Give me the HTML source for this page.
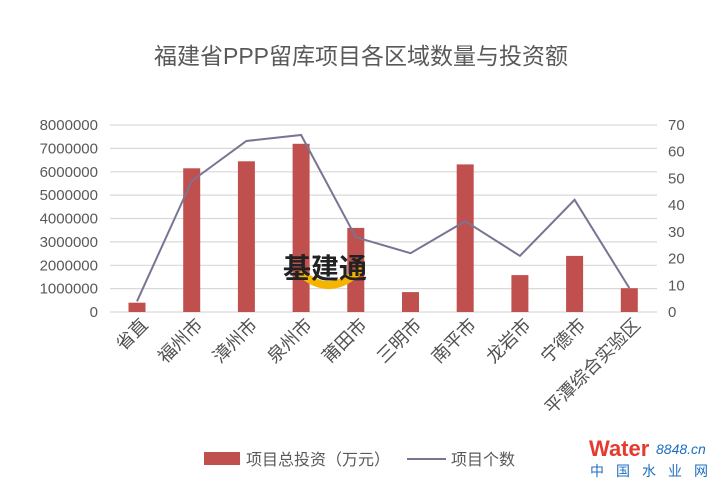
<!DOCTYPE html>
<html><head><meta charset="utf-8"><style>
body{margin:0;background:#fff}
svg text{font-family:"Liberation Sans","Noto Sans CJK SC",sans-serif}
</style></head><body>
<svg width="716" height="484" viewBox="0 0 716 484" xmlns="http://www.w3.org/2000/svg">
<rect width="716" height="484" fill="#fff"/>
<text x="361" y="64" font-size="23" fill="#595959" text-anchor="middle">福建省PPP留库项目各区域数量与投资额</text>
<g stroke="#d9d9d9" stroke-width="1.2">
<line x1="110" x2="657" y1="125" y2="125"/><line x1="110" x2="657" y1="148.4" y2="148.4"/>
<line x1="110" x2="657" y1="171.8" y2="171.8"/><line x1="110" x2="657" y1="195.1" y2="195.1"/>
<line x1="110" x2="657" y1="218.5" y2="218.5"/><line x1="110" x2="657" y1="241.9" y2="241.9"/>
<line x1="110" x2="657" y1="265.3" y2="265.3"/><line x1="110" x2="657" y1="288.6" y2="288.6"/>
<line x1="110" x2="657" y1="312" y2="312"/>
</g>
<g font-size="15" fill="#595959" text-anchor="end">
<text x="98" y="130">8000000</text><text x="98" y="153.4">7000000</text><text x="98" y="176.8">6000000</text>
<text x="98" y="200.1">5000000</text><text x="98" y="223.5">4000000</text><text x="98" y="246.9">3000000</text>
<text x="98" y="270.3">2000000</text><text x="98" y="293.6">1000000</text><text x="98" y="317">0</text>
</g>
<g font-size="15" fill="#595959">
<text x="668" y="130">70</text><text x="668" y="156.7">60</text><text x="668" y="183.4">50</text>
<text x="668" y="210.1">40</text><text x="668" y="236.9">30</text><text x="668" y="263.6">20</text>
<text x="668" y="290.3">10</text><text x="668" y="317">0</text>
</g>
<g fill="#c0504d">
<rect x="128.5" y="302.7" width="17" height="9.3"/>
<rect x="183.2" y="168.3" width="17" height="143.7"/>
<rect x="237.9" y="161.3" width="17" height="150.7"/>
<rect x="292.6" y="143.8" width="17" height="168.2"/>
<rect x="347.3" y="227.9" width="17" height="84.1"/>
<rect x="402" y="292.1" width="17" height="19.9"/>
<rect x="456.7" y="164.4" width="17" height="147.6"/>
<rect x="511.4" y="275.1" width="17" height="36.9"/>
<rect x="566.1" y="255.9" width="17" height="56.1"/>
<rect x="620.8" y="288.2" width="17" height="23.8"/>
</g>
<polyline fill="none" stroke="#7a7394" stroke-width="2" points="137,301.3 191.7,181 246.4,141 301.1,135 355.8,237.2 410.5,253.2 465.2,221.2 519.9,255.9 574.6,199.8 629.3,288"/>
<g font-size="18" fill="#505050" text-anchor="end">
<text transform="translate(149,326) rotate(-45)">省直</text>
<text transform="translate(203.7,326) rotate(-45)">福州市</text>
<text transform="translate(258.4,326) rotate(-45)">漳州市</text>
<text transform="translate(313.1,326) rotate(-45)">泉州市</text>
<text transform="translate(367.8,326) rotate(-45)">莆田市</text>
<text transform="translate(422.5,326) rotate(-45)">三明市</text>
<text transform="translate(477.2,326) rotate(-45)">南平市</text>
<text transform="translate(531.9,326) rotate(-45)">龙岩市</text>
<text transform="translate(586.6,326) rotate(-45)">宁德市</text>
<text transform="translate(641.3,326) rotate(-45)">平潭综合实验区</text>
</g>
<rect x="204" y="452" width="36" height="13" fill="#c0504d"/>
<text x="246" y="465" font-size="16" fill="#595959">项目总投资（万元）</text>
<line x1="407" x2="446" y1="459" y2="459" stroke="#7a7394" stroke-width="2"/>
<text x="451" y="465" font-size="16" fill="#595959">项目个数</text>
<text x="589" y="456" font-size="22" font-weight="bold" fill="#e53a2f">Water</text>
<text x="656" y="454" font-size="14" font-style="italic" fill="#1f6fc0" font-family="Liberation Serif">8848.cn</text>
<text x="590" y="476" font-size="14" fill="#1f6fc0" letter-spacing="12">中国水业网</text>
<path d="M300,272 Q330,300 362,268" stroke="#f5b400" stroke-width="8" fill="none"/>
<text x="283" y="278" font-size="28" font-weight="bold" fill="#222">基建通</text>
</svg>
</body></html>
